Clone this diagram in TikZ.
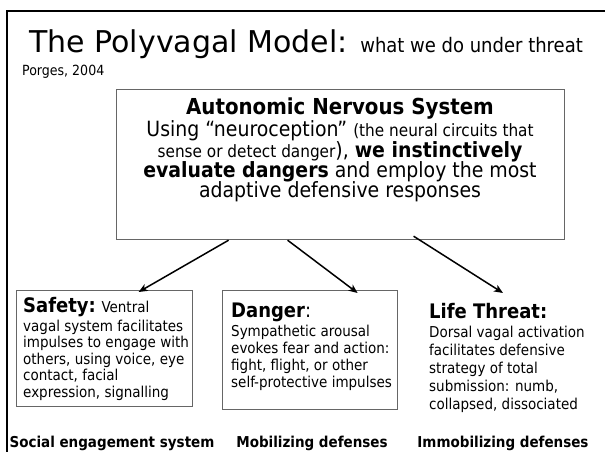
\documentclass[tikz,border=0pt]{standalone}
\usepackage{fontspec}
\setmainfont{DejaVu Sans Condensed}
\newfontfamily\titlefont{DejaVu Sans}
\usepackage{tikz}
\usetikzlibrary{arrows.meta,positioning}

\newcommand{\pxsize}[1]{\fontsize{#1}{#1}\selectfont}
\newcommand{\tightlines}{\setlength{\lineskiplimit}{-50pt}}

\begin{document}
\begin{tikzpicture}[
  x=1pt, y=-1pt,
  box/.style={draw=black!60, line width=1.2pt, inner sep=0pt, anchor=north west},
  txt/.style={align=left, inner sep=0pt, anchor=north west},
  lbl/.style={font=\pxsize{15}\bfseries, anchor=base, inner sep=0pt},
  arr/.style={line width=1.5pt, -{Stealth[length=9pt,width=7.5pt,inset=2.5pt]}}
]
\useasboundingbox (0,0) rectangle (605,451);
\fill[white] (0,0) rectangle (605,451);
% page frame, only top and left edge are visible
\draw[line width=2.2pt] (7,480) |- (640,11);

\node[anchor=base, inner sep=0pt] (title) at (306,52)
  {\titlefont\pxsize{30}The Polyvagal Model: \normalfont\pxsize{20}what we do under threat};
\node[anchor=base west, inner sep=0pt] (ref) at (22,75) {\pxsize{14}Porges, 2004};

% central box
\node[box, minimum width=448pt, minimum height=150pt] (ans) at (116,89) {};
\node[align=center, inner sep=0pt, anchor=north,
      font=\fontsize{21}{20.3}\selectfont\tightlines]
  (anstext) at (340,98) {%
  {\pxsize{22}\bfseries Autonomic Nervous System}\\[1.5pt]
  Using “neuroception” {\pxsize{17}(the neural circuits that}\\
  {\pxsize{17}sense or detect danger}), {\bfseries we instinctively}\\
  {\bfseries evaluate dangers} and employ the most\\
  adaptive defensive responses};

% three responses
\node[box, minimum width=176pt, minimum height=116pt] (safety) at (16,290) {};
\node[txt, font=\fontsize{15}{16.5}\selectfont] (safetytext) at (23,297) {%
  {\pxsize{20}\bfseries Safety:} Ventral\\[2.5pt]
  vagal system facilitates\\
  impulses to engage with\\
  others, using voice, eye\\
  contact, facial\\
  expression, signalling};

\node[box, minimum width=175pt, minimum height=119pt] (danger) at (222,290) {};
\node[txt, font=\fontsize{15}{17}\selectfont] (dangertext) at (231,303) {%
  {\pxsize{20}\bfseries Danger}{\pxsize{20}:}\\[2pt]
  Sympathetic arousal\\
  evokes fear and action:\\
  fight, flight, or other\\
  self-protective impulses};

\node[txt, font=\fontsize{15}{18}\selectfont] (life) at (429,303) {%
  {\pxsize{20}\bfseries Life Threat:}\\[1pt]
  Dorsal vagal activation\\
  facilitates defensive\\
  strategy of total\\
  submission: numb,\\
  collapsed, dissociated};
\coordinate (lifetip) at (503,293);

\draw[arr] ([xshift=-112pt]ans.south) -- ([xshift=34pt,yshift=-2pt]safety.north);
\draw[arr] ([xshift=-53pt]ans.south) -- ([xshift=47.5pt,yshift=-3pt]danger.north);
\draw[arr] ([xshift=73pt,yshift=4pt]ans.south) -- (lifetip);

% what each state drives
\node[lbl] (social) at (112,447) {Social engagement system};
\node[lbl] (mobil) at (312,447) {Mobilizing defenses};
\node[lbl] (immob) at (503,447) {Immobilizing defenses};
\end{tikzpicture}
\end{document}
